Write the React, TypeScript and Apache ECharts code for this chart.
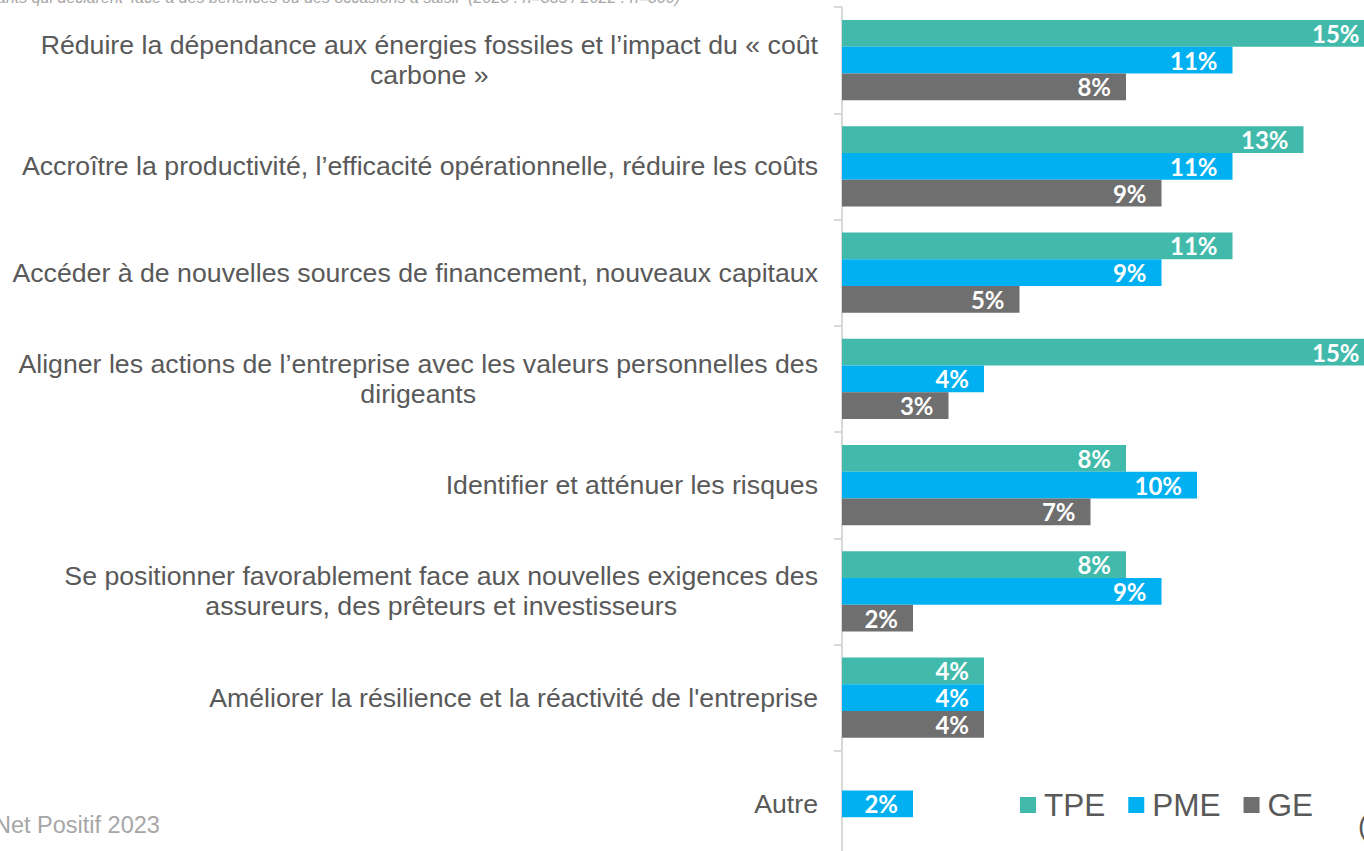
import React, { useEffect, useRef } from "react";
import * as echarts from "echarts";

const categories = [
  "Réduire la dépendance aux énergies fossiles et l’impact du « coût\ncarbone »",
  "Accroître la productivité, l’efficacité opérationnelle, réduire les coûts",
  "Accéder à de nouvelles sources de financement, nouveaux capitaux",
  "Aligner les actions de l’entreprise avec les valeurs personnelles des\ndirigeants",
  "Identifier et atténuer les risques",
  "Se positionner favorablement face aux nouvelles exigences des\nassureurs, des prêteurs et investisseurs",
  "Améliorer la résilience et la réactivité de l'entreprise",
  "Autre",
];

const seriesNames = ["TPE", "PME", "GE"];
const tpeValues: (number | null)[] = [15, 13, 11, 15, 8, 8, 4, null];
const pmeValues: (number | null)[] = [11, 11, 9, 4, 10, 9, 4, 2];
const geValues: (number | null)[] = [8, 9, 5, 3, 7, 2, 4, null];

const colors = ["#41BAAB", "#00B0F0", "#6F6F6F"];

const subtitle =
  "ants qui déclarent 'face à des bénéfices ou des occasions à saisir' (2023 : n=335 / 2022 : n=300)";
const sourceText = "Net Positif 2023";

export default function App() {
  const ref = useRef<HTMLDivElement>(null);

  useEffect(() => {
    if (!ref.current) return;
    const chart = echarts.init(ref.current, undefined, { renderer: "svg" });
    const valueLabel = {
      show: true,
      position: "insideRight",
      distance: 15,
      color: "#ffffff",
      fontFamily: "Lato",
      fontWeight: "bold",
      fontSize: 24,
      formatter: (p: any) => `${p.value}%`,
    };
    const allValues = [tpeValues, pmeValues, geValues];
    chart.setOption({
      animation: false,
      textStyle: { fontFamily: "Liberation Sans" },
      grid: {
        left: 842,
        top: 7,
        width: 568,
        height: 850,
        containLabel: false,
      },
      xAxis: {
        type: "value",
        min: 0,
        max: 16,
        show: false,
        splitLine: { show: false },
      },
      yAxis: {
        type: "category",
        inverse: true,
        data: categories,
        axisLine: { show: true, lineStyle: { color: "#D9D9D9", width: 2 } },
        axisTick: { show: true, length: 8, lineStyle: { color: "#D9D9D9", width: 2 } },
        axisLabel: {
          margin: 24,
          align: "right",
          formatter: (v: string) =>
            v
              .split("\n")
              .map((l) => `{c|${l}}`)
              .join("\n"),
          rich: {
            c: {
              align: "center",
              fontSize: 26.7,
              lineHeight: 30,
              color: "#595959",
              fontFamily: "Liberation Sans",
            },
          },
        },
      },
      legend: {
        data: seriesNames,
        left: 1015,
        top: 784,
        orient: "horizontal",
        icon: "rect",
        itemWidth: 16,
        itemHeight: 16,
        itemGap: 23,
        textStyle: {
          fontSize: 31.5,
          lineHeight: 32,
          color: "#595959",
          fontFamily: "Liberation Sans",
          padding: [0, 0, 0, 3],
        },
      },
      series: seriesNames.map((name, i) => ({
        name,
        type: "bar",
        data: allValues[i],
        barGap: "0%",
        barCategoryGap: "24.5%",
        itemStyle: { color: colors[i] },
        label: valueLabel,
      })),
      graphic: [
        {
          type: "text",
          left: -3,
          top: -11,
          style: {
            text: subtitle,
            fontSize: 16,
            fontStyle: "italic",
            fill: "#A6A6A6",
            fontFamily: "Liberation Sans",
          },
        },
        {
          type: "text",
          left: -6,
          top: 813,
          style: {
            text: sourceText,
            fontSize: 23.5,
            fill: "#A6A6A6",
            fontFamily: "Liberation Sans",
          },
        },
        {
          type: "text",
          left: 1358,
          top: 811,
          style: {
            text: "(",
            fontSize: 28,
            fill: "#595959",
            fontFamily: "Liberation Sans",
          },
        },
      ],
    });
    return () => chart.dispose();
  }, []);

  return (
    <div
      style={{
        position: "fixed",
        left: 0,
        top: 0,
        width: 1364,
        height: 851,
        overflow: "hidden",
        background: "#ffffff",
      }}
    >
      <div
        ref={ref}
        style={{ position: "absolute", left: 0, top: 0, width: 1420, height: 870 }}
      />
    </div>
  );
}
